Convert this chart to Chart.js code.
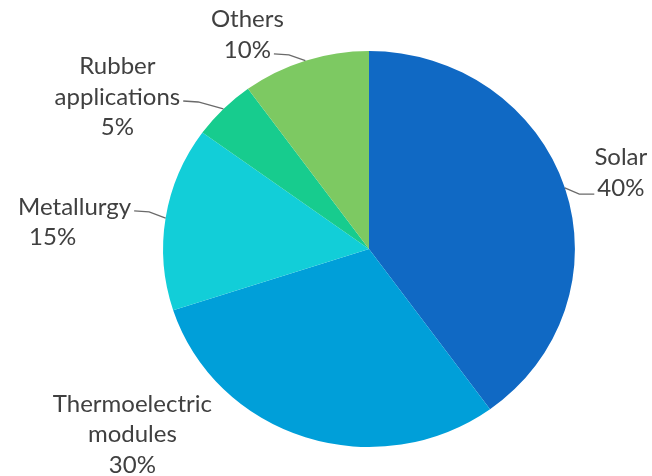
<!DOCTYPE html>
<html>
<head>
<meta charset="utf-8">
<script src="https://cdn.jsdelivr.net/npm/chart.js@4.4.1/dist/chart.umd.min.js"></script>
<style>
  html, body { margin: 0; padding: 0; background: #fff; }
  #wrap { width: 652px; height: 476px; }
</style>
</head>
<body>
<div id="wrap"><canvas id="myChart" width="652" height="476"></canvas></div>
<script>
// segments, clockwise from 12 o'clock
const categories = [
  ['Solar'],
  ['Thermoelectric', 'modules'],
  ['Metallurgy'],
  ['Rubber', 'applications'],
  ['Others']
];
const shares = [40, 30, 15, 5, 10];
const colors = ['#1069c4', '#009fd9', '#12ced8', '#17cc8e', '#7dc962'];

// label block placement relative to the slice edge point (dx, dy), extra x shift per line
const labelLayout = [
  { dx: 56, dy: -15, leader: true },
  { dx: -173, dy: -3, leader: false },
  { dx: -91, dy: 4, leader: true, shift: [0, -22] },
  { dx: -106, dy: -12, leader: true },
  { dx: -58, dy: -26, leader: true }
];

const stretchX = 1.04;   // pie is drawn slightly wider than tall
const lineH = 30.5;
const labelFont = '24px Lato';
const textColor = '#404040';

const total = shares.reduce((a, b) => a + b, 0);

function edgePoint(arc) {
  const mid = (arc.startAngle + arc.endAngle) / 2;
  return {
    x: arc.x + arc.outerRadius * stretchX * Math.cos(mid),
    y: arc.y + arc.outerRadius * Math.sin(mid)
  };
}

const stretchPie = {
  id: 'stretchPie',
  beforeDatasetsDraw(chart) {
    const arc = chart.getDatasetMeta(0).data[0];
    const ctx = chart.ctx;
    ctx.save();
    ctx.translate(arc.x, arc.y);
    ctx.scale(stretchX, 1);
    ctx.translate(-arc.x, -arc.y);
  },
  afterDatasetsDraw(chart) {
    chart.ctx.restore();
  }
};

const sliceLabels = {
  id: 'sliceLabels',
  afterDraw(chart) {
    const ctx = chart.ctx;
    const arcs = chart.getDatasetMeta(0).data;
    ctx.save();
    ctx.font = labelFont;
    ctx.fillStyle = textColor;
    ctx.textAlign = 'center';
    ctx.textBaseline = 'middle';

    arcs.forEach((arc, i) => {
      const lay = labelLayout[i];
      const e = edgePoint(arc);
      const pct = Math.round(shares[i] / total * 100) + '%';
      const lines = categories[i].concat([pct]);
      const cx = e.x + lay.dx;
      const cy = e.y + lay.dy;
      const top = cy - (lines.length - 1) * lineH / 2;

      // draw text, remember each line's box
      const boxes = [];
      lines.forEach((t, j) => {
        const lx = cx + (lay.shift && lay.shift[j] ? lay.shift[j] : 0);
        const ly = top + j * lineH;
        ctx.fillText(t, lx, ly);
        const w = ctx.measureText(t).width;
        boxes.push({ left: lx - w / 2, right: lx + w / 2, y: ly });
      });

      if (!lay.leader) return;
      // attach to the line nearest the slice edge point
      let b = boxes[0];
      boxes.forEach(bx => { if (Math.abs(bx.y - e.y) < Math.abs(b.y - e.y)) b = bx; });
      const onLeft = cx < e.x;
      const tx = onLeft ? b.right + 3 : b.left - 3;
      const ty = b.y + (onLeft ? 4 : 6);
      const kx = tx + (onLeft ? 15 : -15);

      ctx.beginPath();
      ctx.strokeStyle = '#6a6a6a';
      ctx.lineWidth = 1.3;
      ctx.moveTo(tx, ty);
      ctx.lineTo(kx, ty + (e.y > ty ? 1 : 0));
      ctx.lineTo(e.x, e.y);
      ctx.stroke();
    });
    ctx.restore();
  }
};

const data = {
  labels: categories.map(c => c.join(' ')),
  datasets: [{
    data: shares,
    backgroundColor: colors,
    borderWidth: 0,
    clip: false
  }]
};

const config = {
  type: 'pie',
  data: data,
  options: {
    responsive: false,
    animation: false,
    devicePixelRatio: 1,
    layout: { padding: { left: 171, right: 85, top: 51, bottom: 29 } },
    plugins: {
      legend: { display: false },
      tooltip: { enabled: false }
    }
  },
  plugins: [stretchPie, sliceLabels]
};

const myChart = new Chart(document.getElementById('myChart'), config);
</script>
</body>
</html>
